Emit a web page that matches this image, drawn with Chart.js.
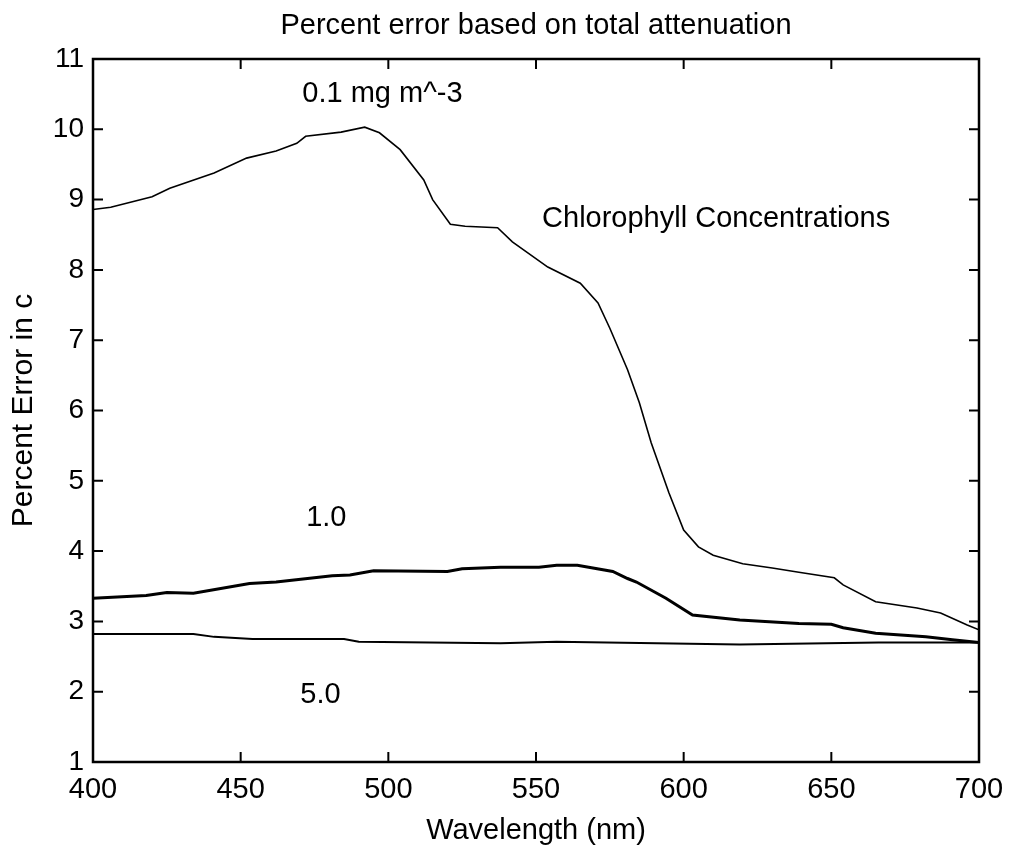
<!DOCTYPE html>
<html>
<head>
<meta charset="utf-8">
<script src="https://cdn.jsdelivr.net/npm/chart.js@4.4.1/dist/chart.umd.min.js"></script>
<style>
  html, body { margin: 0; padding: 0; background: #fff; }
</style>
</head>
<body>
<canvas id="myChart" width="1010" height="848"></canvas>
<script>
// wavelengths (nm) and percent error for each chlorophyll concentration
var wl01 = [400, 406, 420, 426, 441, 452, 462, 469, 472, 484, 492, 497, 504, 512, 515, 521, 526, 537, 542, 554, 565, 571, 575, 581, 585, 589, 595, 600, 605, 610, 620, 630, 639, 651, 654, 665, 679, 687, 696, 700];
var err01 = [8.86, 8.89, 9.04, 9.16, 9.38, 9.59, 9.69, 9.80, 9.90, 9.96, 10.03, 9.95, 9.71, 9.28, 9.00, 8.65, 8.62, 8.60, 8.40, 8.04, 7.81, 7.53, 7.17, 6.58, 6.11, 5.54, 4.83, 4.30, 4.06, 3.94, 3.82, 3.76, 3.70, 3.62, 3.52, 3.28, 3.19, 3.12, 2.95, 2.88];

var wl10 = [400, 418, 425, 434, 453, 462, 481, 487, 495, 520, 525, 538, 551, 557, 564, 576, 581, 584, 594, 603, 619, 639, 650, 654, 665, 682, 691, 700];
var err10 = [3.33, 3.37, 3.41, 3.40, 3.54, 3.56, 3.65, 3.66, 3.72, 3.71, 3.75, 3.77, 3.77, 3.80, 3.80, 3.71, 3.61, 3.56, 3.33, 3.09, 3.02, 2.97, 2.96, 2.91, 2.83, 2.78, 2.74, 2.70];

var wl50 = [400, 434, 441, 454, 485, 490, 538, 557, 619, 666, 700];
var err50 = [2.82, 2.82, 2.78, 2.75, 2.75, 2.71, 2.69, 2.71, 2.67, 2.70, 2.70];

var xTicks = [400, 450, 500, 550, 600, 650, 700];
var yTicks = [1, 2, 3, 4, 5, 6, 7, 8, 9, 10, 11];

var titleText = 'Percent error based on total attenuation';
var noteText = ['0.1 mg m^-3', 'Chlorophyll Concentrations', '1.0', '5.0'];

var FONT = '"Liberation Sans", Arial, Helvetica, sans-serif';

function toPoints(xs, ys) {
	return xs.map(function (x, i) { return { x: x, y: ys[i] }; });
}

// box around the plot, inward ticks on all four sides, title and text notes
var framePlugin = {
	id: 'frame',
	afterDatasetsDraw: function (chart) {
		var ctx = chart.ctx, a = chart.chartArea;
		var xs = chart.scales.x, ys = chart.scales.y;
		ctx.save();
		ctx.strokeStyle = '#000';
		ctx.lineWidth = 2.5;
		ctx.strokeRect(a.left, a.top, a.right - a.left, a.bottom - a.top);

		ctx.lineWidth = 2;
		ctx.beginPath();
		xTicks.forEach(function (v) {
			var px = xs.getPixelForValue(v);
			ctx.moveTo(px, a.bottom); ctx.lineTo(px, a.bottom - 10);
			ctx.moveTo(px, a.top); ctx.lineTo(px, a.top + 10);
		});
		yTicks.forEach(function (v) {
			var py = ys.getPixelForValue(v);
			ctx.moveTo(a.left, py); ctx.lineTo(a.left + 10, py);
			ctx.moveTo(a.right, py); ctx.lineTo(a.right - 10, py);
		});
		ctx.stroke();

		ctx.fillStyle = '#000';
		ctx.textAlign = 'center';
		ctx.textBaseline = 'middle';
		ctx.font = '29px ' + FONT;
		ctx.fillText(titleText, (a.left + a.right) / 2, 26);

		// notes anchored in data coordinates
		var anchors = [[498, 10.5], [611, 8.73], [479, 4.47], [477, 1.95]];
		noteText.forEach(function (t, i) {
			ctx.fillText(t, xs.getPixelForValue(anchors[i][0]), ys.getPixelForValue(anchors[i][1]));
		});
		ctx.restore();
	}
};

var ctx = document.getElementById('myChart').getContext('2d');
var chart = new Chart(ctx, {
	type: 'line',
	data: {
		datasets: [{
			label: '0.1',
			data: toPoints(wl01, err01),
			borderColor: '#000',
			borderWidth: 1.6,
			pointRadius: 0,
			tension: 0
		}, {
			label: '1.0',
			data: toPoints(wl10, err10),
			borderColor: '#000',
			borderWidth: 3,
			pointRadius: 0,
			tension: 0
		}, {
			label: '5.0',
			data: toPoints(wl50, err50),
			borderColor: '#000',
			borderWidth: 2,
			pointRadius: 0,
			tension: 0
		}]
	},
	options: {
		responsive: false,
		animation: false,
		layout: {
			padding: { top: 59, right: 31, bottom: 0, left: 0 }
		},
		plugins: {
			legend: { display: false },
			title: { display: false },
			tooltip: { enabled: false }
		},
		scales: {
			x: {
				type: 'linear',
				min: 400,
				max: 700,
				afterFit: function (scale) {
					scale.height = 86;
					scale.paddingRight = 0;
					scale.paddingLeft = 0;
				},
				afterBuildTicks: function (scale) {
					scale.ticks = xTicks.map(function (v) { return { value: v }; });
				},
				grid: { display: false, drawTicks: false },
				border: { display: false },
				ticks: {
					padding: 11,
					color: '#000',
					font: { family: FONT, size: 29 },
					maxRotation: 0
				},
				title: {
					display: true,
					text: 'Wavelength (nm)',
					color: '#000',
					font: { family: FONT, size: 29 },
					padding: { top: 0, bottom: 0 }
				}
			},
			y: {
				min: 1,
				max: 11,
				afterFit: function (scale) { scale.width = 93; },
				afterBuildTicks: function (scale) {
					scale.ticks = yTicks.map(function (v) { return { value: v }; });
				},
				grid: { display: false, drawTicks: false },
				border: { display: false },
				ticks: {
					padding: 9,
					color: '#000',
					font: { family: FONT, size: 28 }
				},
				title: {
					display: true,
					text: 'Percent Error in c',
					color: '#000',
					font: { family: FONT, size: 30 },
					padding: { top: 6, bottom: 0 }
				}
			}
		}
	},
	plugins: [framePlugin]
});
</script>
</body>
</html>
